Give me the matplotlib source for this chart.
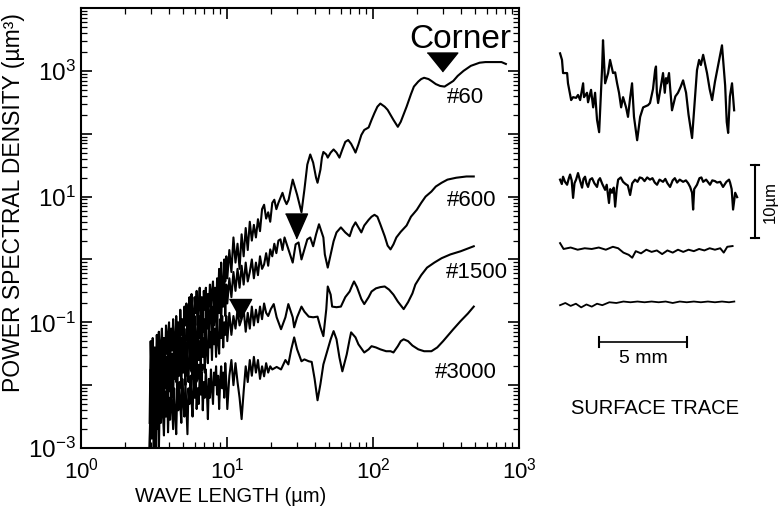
import numpy as np
import matplotlib.pyplot as plt
from matplotlib.ticker import FixedLocator, LogLocator, NullFormatter

plt.rcParams['font.family'] = ['Liberation Sans', 'DejaVu Sans']
plt.rcParams['mathtext.fontset'] = 'custom'
plt.rcParams['mathtext.rm'] = 'Liberation Sans'
plt.rcParams['mathtext.it'] = 'Liberation Sans:italic'
plt.rcParams['mathtext.bf'] = 'Liberation Sans:bold'

# ---- spectra (log10 of wavelength in um, log10 of PSD in um^3)
# shared short-wavelength grid for the noisy part
log_wl_short = [0.470, 0.477, 0.484, 0.491, 0.498, 0.505, 0.512, 0.519, 0.526, 0.533,
                0.540, 0.547, 0.554, 0.561, 0.568, 0.575, 0.582, 0.589, 0.596, 0.603,
                0.610, 0.617, 0.624, 0.631, 0.638, 0.645, 0.652, 0.659, 0.666, 0.673,
                0.680, 0.687, 0.694, 0.701, 0.708, 0.715, 0.722, 0.729, 0.736, 0.743,
                0.750, 0.757, 0.764, 0.771, 0.778, 0.785, 0.792, 0.799, 0.806, 0.813,
                0.820, 0.827, 0.834, 0.841, 0.848, 0.855, 0.862, 0.869, 0.876, 0.883,
                0.890, 0.897, 0.904, 0.911, 0.918, 0.925, 0.932, 0.939, 0.946, 0.953,
                0.960, 0.967, 0.974, 0.981, 0.988, 0.995,
                1.002, 1.016, 1.030, 1.044, 1.058, 1.072, 1.086, 1.100, 1.114, 1.128,
                1.142, 1.156, 1.170, 1.184, 1.198, 1.212, 1.226, 1.240, 1.254, 1.268,
                1.282, 1.296, 1.310, 1.324, 1.338, 1.352, 1.366, 1.380, 1.394, 1.408, 1.422]

# #60
noise60 = [-2.60, -1.30, -1.95, -1.25, -1.70, -1.40, -1.85, -1.20, -1.60, -1.15,
           -1.75, -1.35, -1.10, -1.65, -1.25, -1.80, -1.05, -1.50, -1.20, -1.00,
           -1.60, -1.10, -1.45, -0.95, -1.30, -1.55, -0.90, -1.25, -1.00, -1.45,
           -0.80, -1.20, -0.95, -1.40, -0.75, -1.05, -0.70, -1.30, -0.85, -0.60,
           -1.15, -0.55, -0.90, -1.20, -0.60, -0.85, -0.50, -1.05, -0.70, -0.45,
           -0.95, -0.60, -1.10, -0.50, -0.80, -0.45, -0.95, -0.55, -0.75, -0.40,
           -0.90, -0.50, -0.35, -0.80, -0.45, -0.95, -0.30, -0.60, -0.15, -0.70,
           -0.05, -0.45, -0.65, 0.00, -0.35, 0.05,
           -0.30, 0.15, -0.20, 0.35, -0.05, 0.25, -0.15, 0.40, 0.05, 0.50,
           0.15, 0.60, 0.30, 0.55, 0.35, 0.64, 0.45, 0.80, 0.87, 0.65,
           0.75, 0.60, 0.90, 0.95, 0.80, 0.90, 0.98, 1.06, 0.95, 0.88, 0.95]
long60_x = [1.45, 1.48, 1.51, 1.53, 1.55, 1.57, 1.59, 1.61, 1.62, 1.64, 1.65, 1.66, 1.68, 1.69, 1.71,
            1.73, 1.75, 1.77, 1.79, 1.81, 1.83, 1.85, 1.87, 1.88, 1.90, 1.92, 1.94, 1.97, 1.99, 2.01,
            2.03, 2.05, 2.08, 2.10, 2.14, 2.17, 2.19, 2.23, 2.26, 2.28, 2.31, 2.33, 2.35, 2.38, 2.40,
            2.43, 2.46, 2.49, 2.51, 2.55, 2.58, 2.62, 2.67, 2.73, 2.77, 2.82, 2.88, 2.91]
long60_y = [1.27, 1.03, 0.75, 1.11, 1.51, 1.67, 1.54, 1.30, 1.22, 1.43, 1.62, 1.71, 1.67, 1.62, 1.70,
            1.75, 1.70, 1.62, 1.75, 1.87, 1.90, 1.84, 1.75, 1.70, 1.83, 1.98, 2.06, 2.10, 2.22, 2.33,
            2.43, 2.48, 2.43, 2.38, 2.22, 2.11, 2.19, 2.43, 2.63, 2.75, 2.83, 2.87, 2.89, 2.87, 2.84,
            2.79, 2.76, 2.75, 2.78, 2.84, 2.92, 3.00, 3.08, 3.13, 3.14, 3.14, 3.14, 3.11]

# #600
noise600 = [-3.10, -1.75, -2.20, -1.55, -2.05, -1.70, -2.30, -1.50, -1.95, -1.60,
            -2.15, -1.45, -1.80, -2.05, -1.40, -1.90, -1.55, -2.10, -1.35, -1.75,
            -1.30, -2.00, -1.50, -1.85, -1.25, -1.65, -1.95, -1.20, -1.55, -1.80,
            -1.15, -1.60, -1.25, -1.75, -1.10, -1.45, -1.85, -1.05, -1.40, -1.00,
            -1.50, -0.95, -1.65, -1.20, -0.90, -1.35, -1.55, -0.85, -1.25, -0.90,
            -1.40, -0.80, -1.15, -0.95, -1.45, -0.75, -1.10, -0.70, -1.30, -0.85,
            -0.65, -1.20, -0.75, -1.05, -0.55, -0.95, -1.25, -0.50, -0.85, -0.60,
            -1.00, -0.45, -0.75, -0.35, -0.90, -0.40,
            -0.70, -0.30, -0.60, -0.20, -0.50, -0.15, -0.45, -0.10, -0.40, -0.05,
            -0.35, -0.20, 0.00, -0.30, -0.05, -0.25, 0.05, -0.15, -0.08, 0.10,
            -0.10, 0.16, 0.05, 0.25, 0.10, 0.30, 0.32, 0.15, 0.35, 0.25]
long600_x = [1.42, 1.45, 1.47, 1.49, 1.51, 1.53, 1.55, 1.57, 1.59, 1.61, 1.63, 1.66, 1.67, 1.69, 1.71,
             1.73, 1.75, 1.78, 1.81, 1.84, 1.86, 1.88, 1.90, 1.92, 1.94, 1.97, 1.99, 2.01, 2.03, 2.05,
             2.08, 2.10, 2.12, 2.14, 2.16, 2.19, 2.23, 2.26, 2.30, 2.33, 2.36, 2.40, 2.43, 2.47, 2.51,
             2.57, 2.64, 2.69]
long600_y = [0.16, -0.05, 0.24, 0.27, 0.00, 0.16, 0.32, 0.35, 0.21, 0.40, 0.56, 0.35, 0.08, -0.13, 0.08,
             0.29, 0.43, 0.51, 0.43, 0.37, 0.51, 0.59, 0.51, 0.43, 0.54, 0.63, 0.68, 0.71, 0.68, 0.56,
             0.37, 0.22, 0.16, 0.24, 0.35, 0.44, 0.54, 0.68, 0.79, 0.90, 1.00, 1.08, 1.16, 1.22, 1.27,
             1.30, 1.32, 1.32]

# #1500
noise1500 = [-3.10, -1.95, -2.40, -1.80, -2.30, -1.85, -3.05, -1.75, -2.25, -1.90,
             -2.40, -1.70, -2.15, -1.80, -2.35, -1.65, -2.05, -1.75, -2.25, -1.60,
             -2.10, -1.55, -1.95, -2.20, -1.50, -1.90, -1.60, -2.15, -1.45, -1.85,
             -1.50, -2.05, -1.40, -1.80, -1.55, -2.00, -1.35, -1.75, -1.95, -1.30,
             -1.70, -1.40, -1.90, -1.25, -1.65, -1.35, -1.85, -1.20, -1.60, -1.30,
             -1.75, -1.15, -1.55, -1.25, -1.80, -1.10, -1.45, -1.65, -1.05, -1.40,
             -1.15, -1.60, -1.00, -1.35, -1.10, -1.55, -0.95, -1.30, -1.50, -0.95,
             -1.25, -0.90, -1.40, -1.00, -1.20, -0.90,
             -1.30, -0.85, -1.20, -0.90, -1.10, -0.80, -1.05, -0.95, -0.80, -1.15,
             -0.85, -1.10, -0.75, -1.05, -0.80, -1.00, -0.75, -0.95, -0.70, -0.85, -0.90]
long1500_x = [1.30, 1.32, 1.34, 1.37, 1.40, 1.42, 1.45, 1.46, 1.48, 1.51, 1.53, 1.56, 1.59, 1.62, 1.64,
              1.66, 1.68, 1.69, 1.71, 1.72, 1.75, 1.78, 1.81, 1.84, 1.86, 1.87, 1.89, 1.92, 1.94, 1.97,
              1.99, 2.02, 2.05, 2.08, 2.11, 2.14, 2.17, 2.21, 2.24, 2.27, 2.29, 2.33, 2.37, 2.42, 2.47,
              2.53, 2.60, 2.69]
long1500_y = [-0.79, -0.71, -0.92, -1.11, -0.92, -0.71, -0.92, -1.08, -0.92, -0.75, -0.83, -0.91, -0.92, -0.91, -1.08,
              -1.22, -0.79, -0.43, -0.56, -0.75, -0.76, -0.75, -0.60, -0.51, -0.40, -0.35, -0.44, -0.63, -0.71, -0.60,
              -0.51, -0.46, -0.44, -0.43, -0.48, -0.56, -0.67, -0.79, -0.68, -0.54, -0.40, -0.25, -0.13, -0.05, 0.02,
              0.08, 0.13, 0.21]

# #3000
noise3000 = [-3.10, -2.25, -2.85, -2.10, -3.10, -2.40, -2.05, -2.70, -2.20, -3.10,
             -2.15, -2.60, -2.05, -2.45, -2.80, -2.10, -2.50, -2.00, -2.75, -2.20,
             -2.55, -2.00, -2.35, -2.70, -2.05, -2.45, -2.78, -2.10, -2.40, -1.95,
             -2.30, -2.60, -1.90, -2.25, -2.50, -1.95, -2.35, -2.78, -2.05, -2.30,
             -1.85, -2.25, -2.50, -1.90, -2.20, -1.80, -2.38, -2.05, -2.30, -1.85,
             -2.15, -1.80, -2.40, -1.95, -2.20, -1.75, -2.10, -2.54, -1.90, -2.20,
             -1.75, -2.05, -2.30, -1.80, -2.00, -1.70, -2.15, -1.85, -2.38, -1.95,
             -1.70, -2.05, -1.80, -2.20, -1.65, -1.95,
             -2.38, -1.85, -1.60, -2.00, -1.65, -1.95, -2.20, -2.54, -2.10, -1.70,
             -1.95, -1.60, -1.85, -1.55, -1.80, -1.60, -1.90, -1.70, -1.86, -1.65,
             -1.80, -1.70, -1.75]
long3000_x = [1.34, 1.37, 1.40, 1.42, 1.44, 1.46, 1.48, 1.51, 1.53, 1.56, 1.58, 1.60, 1.62, 1.64, 1.66,
              1.69, 1.71, 1.73, 1.75, 1.77, 1.79, 1.82, 1.84, 1.85, 1.88, 1.90, 1.94, 1.97, 1.99, 2.02,
              2.05, 2.09, 2.12, 2.14, 2.17, 2.19, 2.21, 2.24, 2.27, 2.31, 2.35, 2.40, 2.44, 2.48, 2.52,
              2.55, 2.60, 2.65, 2.69]
long3000_y = [-1.71, -1.75, -1.60, -1.67, -1.43, -1.24, -1.43, -1.62, -1.59, -1.62, -1.63, -1.90, -2.24, -1.98, -1.67,
              -1.43, -1.27, -1.14, -1.27, -1.56, -1.78, -1.51, -1.27, -1.16, -1.24, -1.35, -1.48, -1.43, -1.38, -1.40,
              -1.43, -1.46, -1.46, -1.48, -1.38, -1.30, -1.27, -1.30, -1.37, -1.43, -1.46, -1.46, -1.40, -1.30, -1.19,
              -1.11, -0.98, -0.86, -0.75]

labels = ['#60', '#600', '#1500', '#3000']
# corner wavelength markers (log10 wl, log10 psd)
corner_x = [2.47, 1.47, 1.09, 0.79]
corner_y = [3.14, 0.54, -0.79, -1.81]

# ---- surface traces (position in mm, height in um)
trace1_mm = [0.00, 0.11, 0.17, 0.40, 0.45, 0.63, 0.74, 0.91, 1.02, 1.14, 1.31, 1.36, 1.53, 1.59, 1.76,
             1.88, 1.99, 2.10, 2.22, 2.39, 2.44, 2.56, 2.73, 2.84, 3.01, 3.13, 3.24, 3.35, 3.47, 3.58,
             3.75, 3.86, 3.98, 4.09, 4.20, 4.38, 4.55, 4.72, 5.00, 5.11, 5.28, 5.40, 5.45, 5.50, 5.57,
             5.70, 5.85, 5.95, 6.02, 6.08, 6.19, 6.25, 6.36, 6.55, 6.70, 6.85, 6.99, 7.16, 7.30, 7.50,
             7.78, 7.90, 8.00, 8.13, 8.35, 8.50, 8.64, 8.80, 9.00, 9.20, 9.38, 9.47, 9.55, 9.65, 9.77, 9.89]
trace1_um = [6.4, 5.5, 3.7, 3.7, 2.3, 0.0, 0.4, 0.3, 0.7, 0.0, 2.3, 0.4, 1.0, -0.3, 1.4,
             -1.0, 1.0, -2.7, -4.4, 4.5, 8.2, 2.3, 3.7, 5.5, 3.7, 3.8, 2.3, 1.0, -1.0, 0.4,
             -1.0, -2.3, 0.3, 2.3, -2.3, -5.5, -2.3, -1.0, -0.7, -0.4, 1.5, 4.1, 4.6, 1.0, -0.4,
             1.5, 3.7, 1.0, 3.0, 2.3, 3.7, 1.8, -1.4, 0.5, 1.0, 1.8, 2.7, 1.0, -2.0, -5.2,
             4.1, 5.5, 4.8, 6.2, 3.7, 1.5, 0.0, 2.5, 5.0, 7.5, 2.0, -3.0, -4.5, 0.5, 2.3, -1.4]
trace2_mm = [0.00, 0.10, 0.17, 0.28, 0.40, 0.50, 0.57, 0.66, 0.74, 0.82, 0.91, 1.02, 1.12, 1.25, 1.33,
             1.42, 1.50, 1.59, 1.70, 1.82, 1.95, 2.10, 2.18, 2.27, 2.40, 2.56, 2.65, 2.78, 2.85, 2.95,
             3.05, 3.13, 3.22, 3.30, 3.45, 3.58, 3.72, 3.85, 3.98, 4.10, 4.26, 4.40, 4.53, 4.66, 4.80,
             4.95, 5.11, 5.25, 5.38, 5.51, 5.65, 5.85, 5.98, 6.10, 6.25, 6.40, 6.52, 6.65, 6.80, 6.99,
             7.15, 7.28, 7.39, 7.50, 7.56, 7.62, 7.78, 7.92, 8.03, 8.13, 8.30, 8.52, 8.65, 8.80, 8.92,
             9.10, 9.26, 9.45, 9.60, 9.66, 9.75, 9.83, 9.95, 10.06]
trace2_um = [0.3, -0.3, 0.7, 0.0, -0.4, 0.5, 1.0, 0.2, -2.2, -0.2, 0.3, 1.2, 0.3, -0.8, 0.4,
             0.7, -0.2, -0.7, 0.3, 0.5, -0.2, -0.7, 0.2, 0.5, -0.3, -1.1, -0.4, -2.9, -1.0, -1.5,
             -0.8, -3.4, -1.0, 0.3, 0.6, 0.0, -0.3, -0.5, -1.8, -0.2, 0.3, 0.0, 0.6, 0.5, 0.1,
             0.6, 0.3, 0.5, -0.1, -0.4, 0.3, 0.0, 0.4, -0.2, -0.7, 0.2, 0.5, -0.1, 0.3, 0.0,
             0.2, -0.2, -0.7, -1.5, -3.8, -1.0, -0.4, 0.5, 0.6, 0.0, 0.3, -0.4, 0.2, 0.1, -0.1,
             0.0, -0.7, 0.0, 0.3, -0.1, -1.0, -3.8, -1.5, -2.1]
trace3_mm = [0.0, 0.2, 0.6, 1.0, 1.4, 1.8, 2.2, 2.6, 3.0, 3.3, 3.6, 3.9, 4.1, 4.3, 4.6, 4.9, 5.2,
             5.5, 5.8, 6.1, 6.4, 6.7, 7.0, 7.3, 7.6, 7.9, 8.2, 8.5, 8.8, 9.1, 9.3, 9.5, 9.8]
trace3_um = [0.7, -0.1, 0.1, -0.2, 0.0, -0.1, 0.1, -0.2, 0.2, 0.0, -0.6, -0.9, -1.3, -0.4, -0.7, -0.2, -0.5,
             -0.3, -0.8, -0.3, -0.6, -0.2, -0.5, -0.2, -0.4, -0.1, -0.3, 0.0, -0.2, 0.0, -0.6, 0.2, 0.3]
trace4_mm = [0.0, 0.3, 0.6, 0.9, 1.2, 1.5, 1.8, 2.1, 2.4, 2.8, 3.2, 3.6, 4.0, 4.4, 4.8, 5.2, 5.6,
             6.0, 6.4, 6.8, 7.2, 7.6, 8.0, 8.4, 8.8, 9.2, 9.6, 9.9]
trace4_um = [-0.3, 0.0, -0.4, -0.1, -0.6, -0.2, -0.5, -0.1, -0.3, 0.1, 0.0, 0.2, 0.1, 0.2, 0.1, 0.2, 0.1,
             0.2, 0.0, 0.2, 0.1, 0.2, 0.1, 0.2, 0.1, 0.2, 0.1, 0.2]

# ---------------------------------------------------------------
fig = plt.figure(figsize=(7.82, 5.24), dpi=100)
ax = fig.add_axes([0.1036, 0.145, 0.5601, 0.8397])

curves = [(noise60, long60_x, long60_y), (noise600, long600_x, long600_y),
          (noise1500, long1500_x, long1500_y), (noise3000, long3000_x, long3000_y)]
for noise, lx, ly in curves:
    x = np.concatenate([log_wl_short[:len(noise)], lx])
    y = np.concatenate([noise, ly])
    ax.plot(10.0 ** x, 10.0 ** y, color='black', lw=1.5)

# triangles
tri_shapes = [([(-1, 0.62), (1, 0.62), (0, -0.62)], 22),
              ([(-0.88, 1), (0.88, 1), (0, -1)], 18),
              ([(-1, 0.9), (1, 0.9), (0, -0.9)], 16),
              ('v', 13)]
for (shape, ms), cx, cy in zip(tri_shapes, corner_x, corner_y):
    ax.plot(10.0 ** cx, 10.0 ** cy, marker=shape, ms=ms, color='black', ls='none')

ax.text(10 ** 2.596, 10 ** 3.50, 'Corner', fontsize=24, ha='center', va='center')
label_pos = [(2.507, 2.571), (2.507, 0.937), (2.50, -0.206), (2.425, -1.794)]
for lab, (lx, ly) in zip(labels, label_pos):
    ax.text(10 ** lx, 10 ** ly, lab, fontsize=16, ha='left', va='center')

ax.set_xscale('log')
ax.set_yscale('log')
ax.set_xlim(1, 1000)
ax.set_ylim(1e-3, 1e4)

ax.xaxis.set_major_locator(FixedLocator([1, 10, 100, 1000]))
ax.set_xticklabels(['$10^{0}$', '$10^{1}$', '$10^{2}$', '$10^{3}$'])
ax.yaxis.set_major_locator(FixedLocator([10.0 ** k for k in range(-3, 5)]))
ax.set_yticklabels(['$10^{-3}$', '', '$10^{-1}$', '', '$10^{1}$', '', '$10^{3}$', ''])
for a in (ax.xaxis, ax.yaxis):
    a.set_minor_locator(LogLocator(base=10, subs=np.arange(2, 10), numticks=20))
    a.set_minor_formatter(NullFormatter())

ax.tick_params(which='both', direction='in', top=True, right=True)
ax.tick_params(which='major', length=8, width=1.2)
ax.tick_params(which='minor', length=4, width=0.9)
ax.tick_params(axis='x', pad=7, labelsize=16)
ax.tick_params(axis='y', pad=4, labelsize=17.5)
for s in ax.spines.values():
    s.set_linewidth(1.5)

fig.text(14 / 782, 1 - 203 / 524, 'POWER SPECTRAL DENSITY (µm³)', rotation=90,
         fontsize=16.5, ha='center', va='center')
fig.text(231 / 782, 1 - 497 / 524, 'WAVE LENGTH (µm)', fontsize=14.5, ha='center', va='center')

# ---- surface trace panel
rax = fig.add_axes([540 / 782, 94 / 524, 242 / 782, 400 / 524])
rax.set_xlim(0, 13.75)
rax.set_ylim(0, 54.8)
rax.axis('off')

x0 = 1.14
baselines = [45.2, 34.0, 24.9, 17.4]
widths = [1.6, 1.6, 1.4, 1.3]
traces = [(trace1_mm, trace1_um), (trace2_mm, trace2_um), (trace3_mm, trace3_um), (trace4_mm, trace4_um)]
for (tx, ty), b, w in zip(traces, baselines, widths):
    rax.plot(np.array(tx) + x0, np.array(ty) + b, color='black', lw=w)

# 10 um vertical scale bar
vx, v0, v1 = 12.22, 26.3, 36.3
rax.plot([vx, vx], [v0, v1], color='black', lw=1.5)
rax.plot([vx - 0.25, vx + 0.25], [v0, v0], color='black', lw=1.5)
rax.plot([vx - 0.25, vx + 0.25], [v1, v1], color='black', lw=1.5)
rax.text(13.07, 31.3, '10µm', rotation=90, fontsize=12, ha='center', va='center')

# 5 mm horizontal scale bar
h0, h1, hy = 3.35, 8.35, 12.05
rax.plot([h0, h1], [hy, hy], color='black', lw=1.2)
rax.plot([h0, h0], [hy - 0.7, hy + 0.7], color='black', lw=1.5)
rax.plot([h1, h1], [hy - 0.7, hy + 0.7], color='black', lw=1.5)
rax.text(5.85, 9.8, '5 mm', fontsize=14, ha='center', va='center')
rax.text(6.53, 3.0, 'SURFACE TRACE', fontsize=14.5, ha='center', va='center')

fig.savefig('out.png', dpi=100, facecolor='white')
